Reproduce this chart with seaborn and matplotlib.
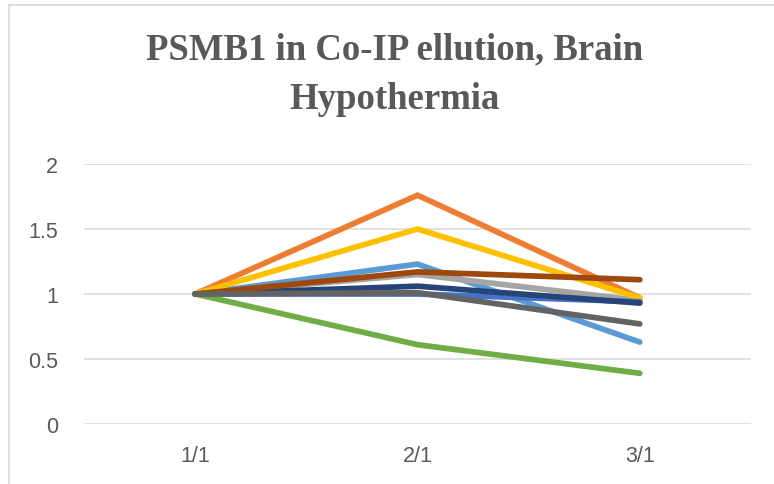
import matplotlib
matplotlib.use("Agg")
import matplotlib.pyplot as plt
from matplotlib.patches import Rectangle
import seaborn as sns
import pandas as pd

# data
categories = ["1/1", "2/1", "3/1"]
series_names = ["S1", "S2", "S3", "S4", "S5", "S6", "S7", "S8", "S9"]
s1 = [1.0, 1.23, 0.63]
s2 = [1.0, 1.76, 0.97]
s3 = [1.0, 1.15, 0.95]
s4 = [1.0, 1.50, 0.97]
s5 = [1.0, 1.00, 0.94]
s6 = [1.0, 0.61, 0.39]
s7 = [1.0, 1.06, 0.93]
s8 = [1.0, 1.17, 1.11]
s9 = [1.0, 1.01, 0.77]
series_values = [s1, s2, s3, s4, s5, s6, s7, s8, s9]
colors = ["#5B9BD5", "#ED7D31", "#A5A5A5", "#FFC000", "#4472C4",
          "#70AD47", "#264478", "#9E480E", "#636363"]
y_ticks = [0, 0.5, 1, 1.5, 2]
y_tick_labels = ["0", "0.5", "1", "1.5", "2"]
title = "PSMB1 in Co-IP ellution, Brain\nHypothermia"

rows = []
for name, vals in zip(series_names, series_values):
    for i, (cat, v) in enumerate(zip(categories, vals)):
        rows.append({"series": name, "pos": i, "value": v})
df = pd.DataFrame(rows)

sns.set_style("white")
plt.rcParams["font.family"] = ["Liberation Sans", "DejaVu Sans"]

W, H = 774, 485
fig = plt.figure(figsize=(W / 100, H / 100), dpi=100)
ax = fig.add_axes([84 / W, 1 - 425 / H, (751 - 84) / W, 260 / H])

# chart area border (cropped on right/bottom in the reference)
fig.patches.append(Rectangle((9 / W, -0.1), 1.2, 1 - 6 / H + 0.1,
                             transform=fig.transFigure, fill=False,
                             edgecolor="#D9D9D9", linewidth=1.2))

ax.set_axisbelow(True)
for t in y_ticks:
    ax.axhline(t, color="#D9D9D9", linewidth=1.1, zorder=0)

sns.lineplot(data=df, x="pos", y="value", hue="series",
             hue_order=series_names, palette=colors, sort=False,
             linewidth=4.1, legend=False, ax=ax)
for line in ax.lines[len(y_ticks):]:
    line.set_solid_capstyle("round")
    line.set_solid_joinstyle("miter")
    line.set_clip_on(False)

ax.set_xlim(-0.5, 2.5)
ax.set_ylim(0, 2)
ax.set_xticks(range(len(categories)))
ax.set_xticklabels(categories)
ax.set_yticks(y_ticks)
ax.set_yticklabels(y_tick_labels)
ax.set_xlabel("")
ax.set_ylabel("")
for s in ax.spines.values():
    s.set_visible(False)
ax.tick_params(axis="both", length=0, labelsize=15.5, labelcolor="#595959")
ax.tick_params(axis="y", pad=18.5)
ax.tick_params(axis="x", pad=15)

fig.text(395 / W, 1 - 75 / H, title, ha="center", va="center",
         fontsize=26.5, fontweight="bold", color="#595959",
         family=["Liberation Serif", "DejaVu Serif"], linespacing=1.55)

fig.savefig("out.png", dpi=100)
